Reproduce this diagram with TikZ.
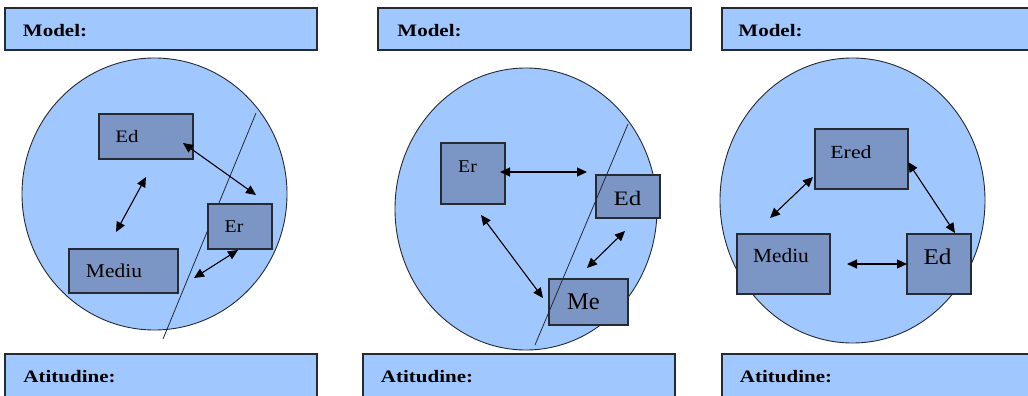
\documentclass[tikz,border=0pt]{standalone}
\usepackage{fontspec}
\setmainfont{Liberation Serif}
\usetikzlibrary{arrows.meta}
\definecolor{lightfill}{HTML}{A0C8FF}
\definecolor{boxfill}{HTML}{7B96C4}
\definecolor{edge}{HTML}{262A33}
\begin{document}
\begin{tikzpicture}[x=1pt,y=-1pt,
  headbox/.style={draw=edge,line width=1.1pt,fill=lightfill},
  disc/.style={draw=edge,line width=0.9pt,fill=lightfill},
  ebox/.style={draw=edge,line width=1.1pt,fill=boxfill,inner sep=0pt},
  txt/.style={inner sep=0pt,text=black},
  htxt/.style={inner sep=0pt,text=black,font=\fontsize{17.5}{17.5}\selectfont\bfseries},
  twoway/.style={line width=1.1pt,draw=black,{Triangle[length=10pt,width=9pt]}-{Triangle[length=10pt,width=9pt]}},
  divider/.style={draw=edge,line width=0.8pt}]
\useasboundingbox (0,0) rectangle (1028,396);
\clip (0,0) rectangle (1028,396);
\fill[white] (0,0) rectangle (1028,396);

% ---------- header / footer boxes
\node[headbox,minimum width=312pt,minimum height=42pt,inner sep=0pt] (m1) at (161,29) {};
\node[headbox,minimum width=313pt,minimum height=42pt,inner sep=0pt] (m2) at (534.5,29) {};
\node[headbox,minimum width=313pt,minimum height=42pt,inner sep=0pt] (m3) at (878.5,29) {};
\node[htxt] (m1t) at (55,31) {\scalebox{1.2}[1]{Model:}};
\node[htxt] (m2t) at (429.5,31) {\scalebox{1.2}[1]{Model:}};
\node[htxt] (m3t) at (770.5,31) {\scalebox{1.2}[1]{Model:}};

\node[headbox,minimum width=312pt,minimum height=52pt,inner sep=0pt] (f1) at (161,380) {};
\node[headbox,minimum width=312pt,minimum height=52pt,inner sep=0pt] (f2) at (519,380) {};
\node[headbox,minimum width=313pt,minimum height=52pt,inner sep=0pt] (f3) at (878.5,380) {};
\node[htxt] (f1t) at (69.5,377) {\scalebox{1.2}[1]{Atitudine:}};
\node[htxt] (f2t) at (427,377) {\scalebox{1.2}[1]{Atitudine:}};
\node[htxt] (f3t) at (786,377) {\scalebox{1.2}[1]{Atitudine:}};

% ---------- panel 1
\path[disc] (154.5,194) ellipse [x radius=132.5, y radius=136];
\coordinate (l1a) at (256,113);
\coordinate (l1b) at (163,339);
\draw[divider] (l1a) -- (l1b);
\node[ebox,minimum width=94pt,minimum height=45pt] (ed1) at (146,136.5) {};
\node[ebox,minimum width=64pt,minimum height=45pt] (er1) at (240,226.5) {};
\node[ebox,minimum width=109pt,minimum height=44pt] (me1) at (123.5,271) {};
\node[txt,font=\fontsize{17.5}{17.5}\selectfont] (ed1t) at (127,137) {\scalebox{1.2}[1]{Ed}};
\node[txt,font=\fontsize{18}{18}\selectfont] (er1t) at (234,227) {\scalebox{1.1}[1]{Er}};
\node[txt,font=\fontsize{19.5}{19.5}\selectfont] (me1t) at (114,271) {\scalebox{1.1}[1]{Mediu}};
\coordinate (a1s) at (183,143);
\coordinate (a1e) at (256,195);
\coordinate (a2s) at (146,177);
\coordinate (a2e) at (116,232);
\coordinate (a3s) at (238,250);
\coordinate (a3e) at (194,278);
\draw[twoway] (a1s) -- (a1e);
\draw[twoway] (a2s) -- (a2e);
\draw[twoway] (a3s) -- (a3e);

% ---------- panel 2
\path[disc] (526,209) ellipse [x radius=131, y radius=141];
\node[ebox,minimum width=64pt,minimum height=61pt] (er2) at (473,173.5) {};
\node[ebox,minimum width=64pt,minimum height=43pt] (ed2) at (628,196.5) {};
\node[ebox,minimum width=79pt,minimum height=46pt] (me2) at (588.5,302) {};
\node[txt,font=\fontsize{18}{18}\selectfont] (er2t) at (467.5,167) {\scalebox{1.1}[1]{Er}};
\node[txt,font=\fontsize{20.5}{20.5}\selectfont] (ed2t) at (627.5,198) {\scalebox{1.22}[1]{Ed}};
\node[txt,font=\fontsize{24}{24}\selectfont] (me2t) at (583.5,302) {\scalebox{1.02}[1]{Me}};
\coordinate (l2a) at (628,124);
\coordinate (l2b) at (535,345);
\draw[divider] (l2a) -- (l2b);
\coordinate (b1s) at (500,172);
\coordinate (b1e) at (587,172);
\coordinate (b2s) at (481,215);
\coordinate (b2e) at (543,298);
\coordinate (b3s) at (625,231);
\coordinate (b3e) at (587,268);
\draw[twoway] (b1s) -- (b1e);
\draw[twoway] (b2s) -- (b2e);
\draw[twoway] (b3s) -- (b3e);

% ---------- panel 3
\path[disc] (852.5,200.5) ellipse [x radius=132.5, y radius=142.5];
\node[ebox,minimum width=93pt,minimum height=60pt] (er3) at (861.5,159) {};
\node[ebox,minimum width=93pt,minimum height=60pt] (me3) at (783.5,264) {};
\node[ebox,minimum width=64pt,minimum height=60pt] (ed3) at (939,264) {};
\node[txt,font=\fontsize{18.5}{18.5}\selectfont] (er3t) at (851,152) {\scalebox{1.18}[1]{Ered}};
\node[txt,font=\fontsize{20}{20}\selectfont] (me3t) at (781,256) {\scalebox{1.07}[1]{Mediu}};
\node[txt,font=\fontsize{22.5}{22.5}\selectfont] (ed3t) at (937.5,257) {\scalebox{1.12}[1]{Ed}};
\coordinate (c1s) at (813,177);
\coordinate (c1e) at (770,218);
\coordinate (c2s) at (908,162);
\coordinate (c2e) at (955,233);
\coordinate (c3s) at (847,264);
\coordinate (c3e) at (907,264);
\draw[twoway] (c1s) -- (c1e);
\draw[twoway] (c2s) -- (c2e);
\draw[twoway] (c3s) -- (c3e);
\end{tikzpicture}
\end{document}
